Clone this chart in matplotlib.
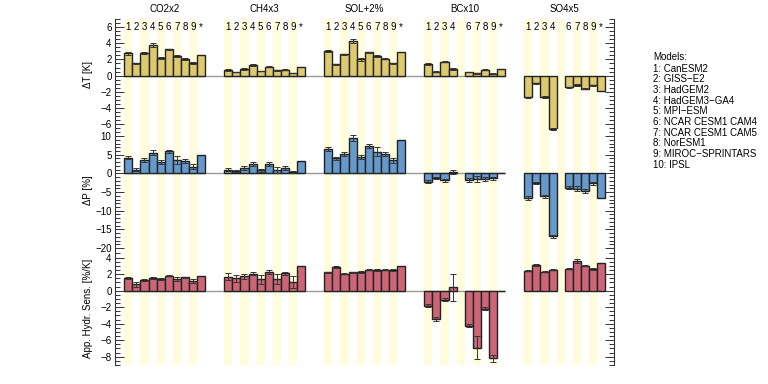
import numpy as np
import matplotlib.pyplot as plt
from matplotlib.ticker import MultipleLocator

plt.rcParams['font.family'] = ['Liberation Sans', 'DejaVu Sans']
plt.rcParams['axes.unicode_minus'] = True

# --- Data ---
scenarios = ['CO2x2', 'CH4x3', 'SOL+2%', 'BCx10', 'SO4x5']
bar_labels = ['1', '2', '3', '4', '5', '6', '7', '8', '9', '*']
models = ['CanESM2', 'GISS\u2212E2', 'HadGEM2', 'HadGEM3\u2212GA4', 'MPI\u2212ESM',
          'NCAR CESM1 CAM4', 'NCAR CESM1 CAM5', 'NorESM1', 'MIROC\u2212SPRINTARS', 'IPSL']
nan = np.nan

# temperature change [K], one row per scenario, last column = mean (*)
dT_vals = [
    [2.75, 1.54, 2.75, 3.76, 2.20, 3.24, 2.43, 2.07, 1.54, 2.55],
    [0.69, 0.45, 0.81, 1.30, 0.57, 1.09, 0.65, 0.73, 0.33, 1.09],
    [3.03, 1.38, 2.63, 4.24, 2.02, 2.91, 2.43, 2.10, 1.50, 2.95],
    [1.38, 0.49, 1.74, 0.77, nan, 0.45, 0.29, 0.73, 0.25, 0.77],
    [-2.70, -0.92, -2.70, -6.60, nan, -1.41, -1.13, -1.61, -1.21, -1.89],
]
dT_errs = [
    [0.15, 0.08, 0.12, 0.28, 0.15, 0.08, 0.18, 0.08, 0.12, nan],
    [0.10, 0.05, 0.10, 0.12, 0.06, 0.06, 0.05, 0.06, 0.05, nan],
    [0.12, 0.05, 0.10, 0.25, 0.20, 0.06, 0.12, 0.07, 0.10, nan],
    [0.12, 0.05, 0.10, 0.12, nan, 0.05, 0.06, 0.05, 0.04, nan],
    [0.10, 0.06, 0.12, 0.15, nan, 0.06, 0.10, 0.06, 0.08, nan],
]

# precipitation change [%]
dP_vals = [
    [4.2, 1.0, 3.5, 5.5, 3.0, 5.9, 3.5, 3.4, 1.8, 4.8],
    [1.0, 0.7, 1.5, 2.6, 0.9, 2.6, 0.9, 1.4, 0.4, 3.2],
    [6.6, 4.0, 5.2, 9.4, 4.4, 7.4, 5.8, 5.2, 3.5, 8.9],
    [-2.3, -1.3, -1.9, 0.4, nan, -1.7, -1.5, -1.5, -1.3, 0.0],
    [-6.5, -2.6, -6.1, -16.9, nan, -3.8, -4.1, -4.8, -2.7, -6.5],
]
dP_errs = [
    [0.4, 0.4, 0.5, 0.7, 0.5, 0.3, 1.1, 0.5, 0.6, nan],
    [0.4, 0.3, 0.5, 0.5, 0.4, 0.5, 0.8, 0.5, 0.3, nan],
    [0.6, 0.5, 0.5, 0.8, 0.6, 0.5, 1.2, 0.6, 0.6, nan],
    [0.4, 0.3, 0.4, 0.5, nan, 0.5, 0.8, 0.5, 0.4, nan],
    [0.5, 0.3, 0.4, 0.5, nan, 0.4, 0.7, 0.5, 0.4, nan],
]

# apparent hydrological sensitivity [%/K]
hs_vals = [
    [1.52, 0.76, 1.28, 1.56, 1.44, 1.80, 1.40, 1.60, 1.16, 1.80],
    [1.68, 1.48, 1.72, 2.06, 1.36, 2.24, 1.36, 2.08, 1.08, 2.96],
    [2.24, 2.88, 2.04, 2.24, 2.24, 2.56, 2.48, 2.52, 2.48, 3.04],
    [-1.80, -3.44, -1.08, 0.40, nan, -4.24, -6.90, -2.20, -8.20, 0.0],
    [2.40, 3.12, 2.28, 2.52, nan, 2.64, 3.60, 3.04, 2.60, 3.40],
]
hs_errs = [
    [0.10, 0.30, 0.08, 0.10, 0.15, 0.05, 0.20, 0.10, 0.25, nan],
    [0.45, 0.40, 0.30, 0.20, 0.55, 0.20, 0.60, 0.20, 0.70, nan],
    [0.05, 0.10, 0.05, 0.05, 0.10, 0.05, 0.10, 0.08, 0.10, nan],
    [0.20, 0.20, 0.20, 1.60, nan, 0.20, 1.40, 0.20, 0.40, nan],
    [0.05, 0.15, 0.05, 0.05, nan, 0.05, 0.20, 0.10, 0.15, nan],
]

# --- Layout ---
W, H = 768, 384
group_step = 12.375
x_left, x_right = -1.15, 4 * group_step + 10 + 1.1

fig = plt.figure(figsize=(7.68, 3.84), dpi=100)

# panel extents in pixels (top, bottom)
panel_px = [(19, 129), (129, 251), (251, 365)]
ax_left_px, ax_right_px = 115, 614

panels = [
    (dT_vals, dT_errs, '#ddc96e', '\u0394T [K]', (-6.6, 7.0), 2, 0.5),
    (dP_vals, dP_errs, '#6699cc', '\u0394P [%]', (-20.8, 11.9), 5, 1),
    (hs_vals, hs_errs, '#cc6677', 'App. Hydr. Sens. [%/K]', (-9.0, 4.8), 2, 0.5),
]

axes = []
for (top, bot), (vals, errs, color, ylabel, ylim, major, minor) in zip(panel_px, panels):
    ax = fig.add_axes([ax_left_px / W, 1 - bot / H,
                       (ax_right_px - ax_left_px) / W, (bot - top) / H])
    axes.append(ax)

    # light yellow stripes behind odd numbered models
    for g in range(len(scenarios)):
        for i in range(0, 10, 2):
            x0 = g * group_step + i
            ax.axvspan(x0, x0 + 1, color='#fffddc', lw=0, zorder=0)

    ax.hlines(0, 0, 3 * group_step + 10, color='#999999', lw=1, zorder=1)

    for g in range(len(scenarios)):
        x = g * group_step + np.arange(10) + 0.5
        v = np.array(vals[g], dtype=float)
        e = np.array(errs[g], dtype=float)
        ax.bar(x, v, width=1.0, color=color, edgecolor='#222222',
               linewidth=1.0, zorder=3, clip_on=False)
        ax.errorbar(x, v, yerr=e, fmt='none', ecolor='#333333',
                    elinewidth=0.7, capsize=2, capthick=0.7, zorder=4,
                    clip_on=False)

    ax.set_xlim(x_left, x_right)
    ax.set_ylim(*ylim)
    ax.yaxis.set_major_locator(MultipleLocator(major))
    ax.yaxis.set_minor_locator(MultipleLocator(minor))
    ax.tick_params(axis='y', which='both', direction='in', left=True, right=True,
                   labelsize=7, color='#333333', width=0.7, pad=2.5)
    ax.tick_params(axis='y', which='major', length=6.5)
    ax.tick_params(axis='y', which='minor', length=3.5)
    ax.set_xticks([])
    for s in ['top', 'bottom']:
        ax.spines[s].set_visible(False)
    for s in ['left', 'right']:
        ax.spines[s].set_linewidth(0.8)
        ax.spines[s].set_color('#333333')
    ax.set_ylabel(ylabel, fontsize=7)
    ax.yaxis.set_label_coords(-0.045, 0.5)
    ax.patch.set_alpha(0)

# model numbers and scenario titles on the top panel
top_ax = axes[0]
for g, name in enumerate(scenarios):
    for i, lab in enumerate(bar_labels):
        if np.isnan(dT_vals[g][i]):
            continue
        top_ax.text(g * group_step + i + 0.5, 6, lab, ha='center', va='center',
                    fontsize=7, zorder=5)
    top_ax.text(g * group_step + 5, 1.09, name, ha='center', va='center',
                fontsize=7, transform=top_ax.get_xaxis_transform())

# model list on the right
fig.text(653 / W, 1 - 57 / H, 'Models:', fontsize=7, va='center')
for k, m in enumerate(models):
    fig.text(653 / W, 1 - (68.5 + k * 10.7) / H, f'{k + 1}: {m}',
             fontsize=7, va='center')

plt.savefig('out.png', dpi=100)
